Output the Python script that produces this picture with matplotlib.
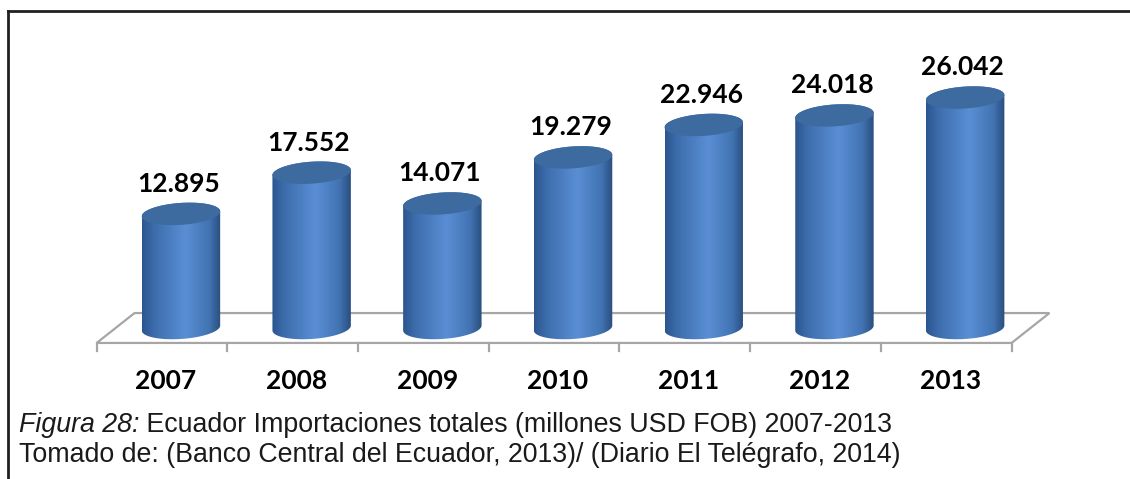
import numpy as np
import matplotlib.pyplot as plt
from matplotlib.path import Path
from matplotlib.patches import PathPatch, Polygon
from matplotlib.colors import LinearSegmentedColormap
from matplotlib.lines import Line2D

# datos: importaciones totales (millones USD FOB)
years = ['2007', '2008', '2009', '2010', '2011', '2012', '2013']
values = [12.895, 17.552, 14.071, 19.279, 22.946, 24.018, 26.042]
value_labels = ['12.895', '17.552', '14.071', '19.279', '22.946', '24.018', '26.042']

W, H = 1130, 479
fig = plt.figure(figsize=(W / 100, H / 100), dpi=100)
ax = fig.add_axes([0, 0, 1, 1])
ax.set_axis_off()

# escala: categoria 0 en x=162px, 130.7px por categoria; valor 0 en y=328px, 8.85px por unidad
ax.set_xlim(-162 / 130.7, (W - 162) / 130.7)
ax.set_ylim((328 - H) / 8.85, 328 / 8.85)

depth_x = 0.29   # desplazamiento de profundidad del piso
half_d = 1.69    # media profundidad en unidades del eje y
floor_col = '#a6a6a6'

n = len(years)
floor = Polygon([(-0.5, -half_d), (n - 0.5, -half_d),
                 (n - 0.5 + depth_x, half_d), (-0.5 + depth_x, half_d)],
                closed=True, facecolor='white', edgecolor=floor_col, lw=1.6, zorder=1)
ax.add_patch(floor)
for k in range(n + 1):
    ax.plot([k - 0.5, k - 0.5], [-half_d, -half_d - 0.95], color=floor_col, lw=1.6, zorder=1)

body_cmap = LinearSegmentedColormap.from_list(
    'cil', [(0, '#2b568f'), (0.15, '#3c6cab'), (0.55, '#5a8fd5'), (0.85, '#4274b3'), (1, '#2a4e7f')])


def cylinder(ax, cx, top, a=0.30, b=1.24, s=0.28):
    t_low = np.linspace(np.pi, 2 * np.pi, 80)
    t_up = np.linspace(0, np.pi, 80)
    bottom = np.column_stack([cx + a * np.cos(t_low), b * np.sin(t_low) + s * np.cos(t_low)])
    upper = np.column_stack([cx + a * np.cos(t_up), top + b * np.sin(t_up) + s * np.cos(t_up)])
    verts = np.vstack([bottom, upper, bottom[:1]])
    codes = [Path.MOVETO] + [Path.LINETO] * (len(verts) - 2) + [Path.CLOSEPOLY]
    clip = PathPatch(Path(verts, codes), facecolor='none', edgecolor='none', zorder=2)
    ax.add_patch(clip)
    grad = np.linspace(0, 1, 256).reshape(1, -1)
    im = ax.imshow(grad, extent=[cx - a, cx + a, -b - s - 0.2, top + b + s + 0.2],
                   aspect='auto', cmap=body_cmap, origin='lower', zorder=2,
                   interpolation='bilinear')
    im.set_clip_path(clip)
    t = np.linspace(0, 2 * np.pi, 160)
    cap = np.column_stack([cx + a * np.cos(t), top + b * np.sin(t) + s * np.cos(t)])
    ax.add_patch(Polygon(cap, closed=True, facecolor='#3d6a9f', edgecolor='none', zorder=3))


for i, (v, lab) in enumerate(zip(values, value_labels)):
    cx = i + depth_x / 2
    cylinder(ax, cx, v)
    ax.text(cx - 0.02, v + 3.4, lab, ha='center', va='center', fontsize=19,
            fontweight='bold', family='Lato', color='black', zorder=4)
    ax.text(i + 0.03, -5.99, years[i], ha='center', va='center', fontsize=19,
            fontweight='bold', family='Lato', color='black')

ax.set_xlim(-162 / 130.7, (W - 162) / 130.7)
ax.set_ylim((328 - H) / 8.85, 328 / 8.85)

# marco
fig.add_artist(Line2D([8 / W, 1], [1 - 11 / H, 1 - 11 / H], color='#231f20', lw=2))
fig.add_artist(Line2D([8 / W, 8 / W], [0, 1 - 11 / H], color='#231f20', lw=2))

# pie de figura
cap_font = dict(fontsize=19.3, family='Liberation Sans', color='#1a1a1a', va='baseline')
t1 = fig.text(19 / W, 1 - 432 / H, 'Figura 28:', style='italic', **cap_font)
fig.canvas.draw()
bb = t1.get_window_extent(renderer=fig.canvas.get_renderer())
fig.text(bb.x1 / W, 1 - 432 / H, ' Ecuador Importaciones totales (millones USD FOB) 2007-2013', **cap_font)
fig.text(19 / W, 1 - 462 / H,
         'Tomado de: (Banco Central del Ecuador, 2013)/ (Diario El Telégrafo, 2014)', **cap_font)

fig.savefig('out.png', dpi=100)
